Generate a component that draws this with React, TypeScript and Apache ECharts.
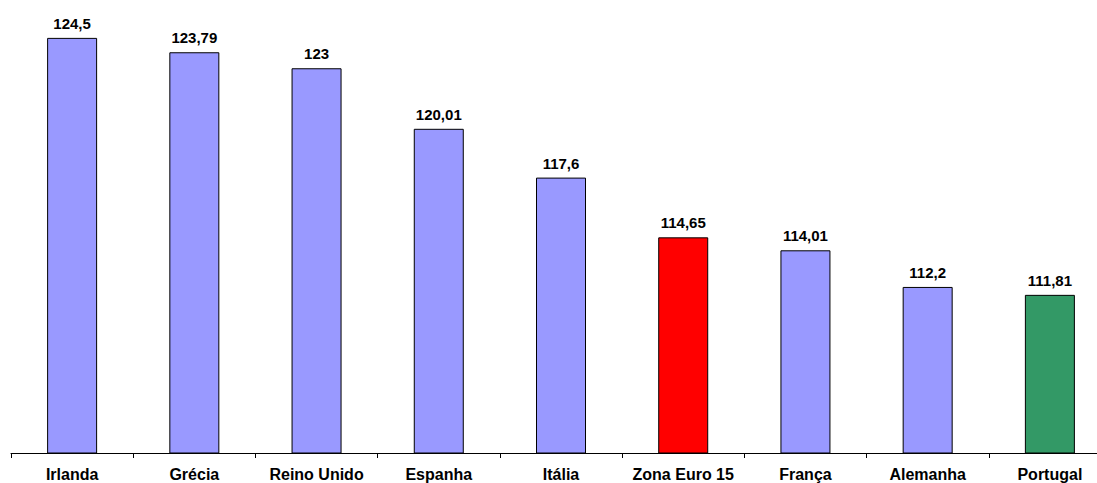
import React, { useEffect, useRef } from "react";
import * as echarts from "echarts";

const categories = ["Irlanda", "Grécia", "Reino Unido", "Espanha", "Itália", "Zona Euro 15", "França", "Alemanha", "Portugal"];
const values = [124.5, 123.79, 123, 120.01, 117.6, 114.65, 114.01, 112.2, 111.81];
const barColors = ["#9999FF", "#9999FF", "#9999FF", "#9999FF", "#9999FF", "#FF0000", "#9999FF", "#9999FF", "#339966"];
const yMin = 104;
const yMax = 126;

export default function App() {
  const ref = useRef<HTMLDivElement>(null);
  useEffect(() => {
    if (!ref.current) return;
    const chart = echarts.init(ref.current, null, { renderer: "svg" });
    chart.setOption({
      animation: false,
      backgroundColor: "#ffffff",
      textStyle: { fontFamily: "Liberation Sans, Arial, sans-serif" },
      grid: { left: 11, top: 7.5, width: 1100, bottom: 30, containLabel: false, outerBoundsMode: "none" },
      xAxis: {
        type: "category",
        data: categories,
        axisLine: { lineStyle: { color: "#000", width: 1 } },
        axisTick: { show: true, length: 5, lineStyle: { color: "#000" } },
        axisLabel: { color: "#000", fontWeight: "bold", fontSize: 16, margin: 13, interval: 0 },
      },
      yAxis: {
        type: "value",
        min: yMin,
        max: yMax,
        show: false,
        splitLine: { show: false },
      },
      series: [
        {
          type: "bar",
          barWidth: 50,
          data: values.map((v, i) => ({
            value: v,
            itemStyle: { color: barColors[i], borderColor: "#000", borderWidth: 1 },
          })),
          label: {
            show: true,
            position: "top",
            distance: 7,
            color: "#000",
            fontWeight: "bold",
            fontSize: 15,
            formatter: (p: any) => String(p.value).replace(".", ","),
          },
        },
      ],
    });
    return () => chart.dispose();
  }, []);
  return (
    <div
      ref={ref}
      style={{ position: "fixed", left: 0, top: 0, width: 1097, height: 483, background: "#fff" }}
    />
  );
}
